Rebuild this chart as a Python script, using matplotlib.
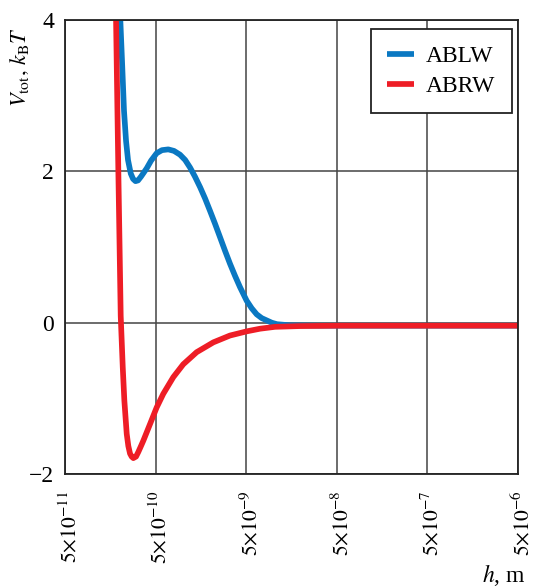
import matplotlib

matplotlib.use("Agg")
import matplotlib.pyplot as plt
import matplotlib.transforms as mtransforms

plt.rcParams["font.family"] = "serif"
plt.rcParams["font.serif"] = ["Liberation Serif", "DejaVu Serif"]
plt.rcParams["mathtext.fontset"] = "stix"

# values (h in metres, V in kT)
h_ablw = [2.04e-10, 2.14e-10, 2.24e-10, 2.36e-10, 2.48e-10, 2.66e-10, 2.82e-10,
          3.00e-10, 3.20e-10, 3.45e-10, 3.99e-10, 4.45e-10, 5.14e-10, 5.88e-10,
          6.90e-10, 7.98e-10, 9.30e-10, 1.06e-9, 1.20e-9, 1.36e-9, 1.55e-9,
          1.76e-9, 1.99e-9, 2.26e-9, 2.57e-9, 2.92e-9, 3.31e-9, 3.76e-9, 4.27e-9,
          5.06e-9, 5.75e-9, 6.53e-9, 7.42e-9, 8.42e-9, 9.56e-9, 1.09e-8, 1.52e-8,
          3.26e-8, 5e-6]
v_ablw = [4.0, 3.4, 2.8, 2.40, 2.15, 1.97, 1.90, 1.87, 1.88, 1.93, 2.04, 2.14,
          2.24, 2.28, 2.29, 2.27, 2.22, 2.15, 2.05, 1.93, 1.79, 1.64, 1.48, 1.31,
          1.13, 0.95, 0.78, 0.62, 0.47, 0.29, 0.19, 0.11, 0.06, 0.03, 0.0, -0.02,
          -0.035, -0.04, -0.04]

h_abrw = [1.83e-10, 1.94e-10, 2.06e-10, 2.17e-10, 2.26e-10, 2.40e-10, 2.50e-10,
          2.61e-10, 2.72e-10, 2.84e-10, 3.04e-10, 3.22e-10, 3.45e-10, 3.66e-10,
          4.34e-10, 5.14e-10, 6.08e-10, 7.84e-10, 1.01e-9, 1.42e-9, 2.17e-9,
          3.31e-9, 5.06e-9, 7.10e-9, 1.04e-8, 1.96e-8, 5.4e-8, 5e-6]
v_abrw = [4.0, 2.0, 0.09, -0.59, -1.03, -1.47, -1.63, -1.73, -1.77, -1.79, -1.77,
          -1.71, -1.63, -1.56, -1.34, -1.12, -0.94, -0.72, -0.55, -0.39, -0.26,
          -0.17, -0.115, -0.08, -0.055, -0.045, -0.04, -0.04]

x_ticks = [5e-11, 5e-10, 5e-9, 5e-8, 5e-7, 5e-6]
x_ticklabels = [r"$5{\times}10^{-11}$", r"$5{\times}10^{-10}$", r"$5{\times}10^{-9}$",
                r"$5{\times}10^{-8}$", r"$5{\times}10^{-7}$", r"$5{\times}10^{-6}$"]
y_ticks = [-2, 0, 2, 4]
y_ticklabels = ["\u22122", "0", "2", "4"]

fig = plt.figure(figsize=(5.36, 5.88), dpi=100)
ax = fig.add_axes([65 / 536, 114 / 588, 453 / 536, 454 / 588])

ax.plot(h_ablw, v_ablw, color="#0a78c2", lw=4.1, label="ABLW",
        solid_capstyle="butt", solid_joinstyle="round")
ax.plot(h_abrw, v_abrw, color="#ee1d26", lw=4.1, label="ABRW",
        solid_capstyle="butt", solid_joinstyle="round")

ax.set_xscale("log")
ax.set_xlim(5e-11, 5e-6)
ax.set_ylim(-2, 4)
ax.set_xticks(x_ticks)
ax.set_xticklabels(x_ticklabels, rotation=90, va="top", ha="center", fontsize=15.5)
ax.minorticks_off()
ax.set_yticks(y_ticks)
ax.set_yticklabels(y_ticklabels, fontsize=17)
ax.tick_params(length=0, pad=8)
ax.tick_params(axis="x", pad=12)
offset = mtransforms.ScaledTranslation(5 / 100, 0, fig.dpi_scale_trans)
for lab in ax.get_xticklabels():
    lab.set_transform(lab.get_transform() + offset)

ax.grid(True, color="#444444", lw=1.1)
ax.set_axisbelow(True)
for sp in ax.spines.values():
    sp.set_linewidth(1.3)
    sp.set_color("#222222")

leg = ax.legend(loc="upper right", bbox_to_anchor=(0.987, 0.98), borderaxespad=0,
                fontsize=17, fancybox=False, framealpha=1, edgecolor="#222222",
                handlelength=1.15, handletextpad=0.5, labelspacing=0.35,
                borderpad=0.7)
leg.get_frame().set_linewidth(1.3)

fig.text(20 / 536, 1 - 27 / 588, r"$V_{\rm tot},\, k_{\rm B}T$", rotation=90,
         ha="center", va="top", fontsize=16)
fig.text(526 / 536, 1 - 575 / 588, r"$h$, m", ha="right", va="center", fontsize=17)

fig.savefig("out.png", dpi=100)
